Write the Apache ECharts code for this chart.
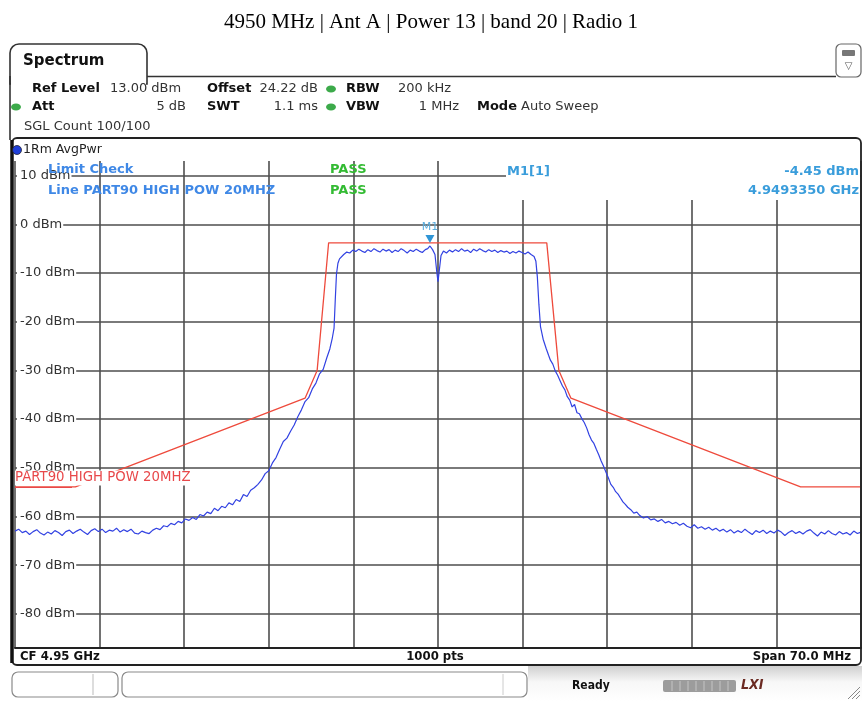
<!DOCTYPE html>
<html>
<head>
<meta charset="utf-8">
<title>Spectrum</title>
<script src="https://cdn.jsdelivr.net/npm/echarts@6/dist/echarts.min.js"></script>
<style>
html, body { margin: 0; padding: 0; background: #fff; }
#main { width: 862px; height: 701px; }
</style>
</head>
<body>
<div id="main"></div>
<script>
var chartTitle = '4950 MHz | Ant A | Power 13 | band 20 | Radio 1';

// x = offset from CF 4.95 GHz in MHz, y = level in dBm
var levelTicks = [10, 0, -10, -20, -30, -40, -50, -60, -70, -80];

var limitLine = [
    [-35, -53.9], [-30, -53.9], [-11, -35.7], [-10, -30], [-9.05, -3.8],
    [9.0, -3.8], [10, -30], [11, -35.7], [30, -53.9], [35, -53.9]
];

var avgTrace = [
    [-35.0, -63.0], [-34.7, -62.6], [-34.4, -63.3], [-34.1, -63.0], [-33.8, -63.7], [-33.5, -63.1],
    [-33.2, -62.7], [-32.9, -63.4], [-32.6, -63.8], [-32.3, -63.2], [-32.0, -63.6], [-31.7, -62.9],
    [-31.4, -63.3], [-31.1, -63.9], [-30.8, -63.1], [-30.5, -62.8], [-30.2, -63.5], [-29.9, -63.0],
    [-29.6, -62.6], [-29.3, -63.2], [-29.0, -63.7], [-28.7, -62.9], [-28.4, -62.5], [-28.1, -63.1],
    [-27.8, -62.6], [-27.5, -63.3], [-27.2, -62.8], [-26.9, -63.0], [-26.6, -62.4], [-26.3, -63.2],
    [-26.0, -62.7], [-25.7, -63.1], [-25.4, -62.6], [-25.1, -63.4], [-24.8, -63.6], [-24.5, -63.0],
    [-24.2, -63.3], [-23.9, -63.5], [-23.6, -62.8], [-23.3, -62.4], [-23.0, -62.7], [-22.7, -61.9],
    [-22.4, -62.1], [-22.1, -61.4], [-21.8, -61.7], [-21.5, -61.0], [-21.2, -61.3], [-20.9, -60.5],
    [-20.6, -60.8], [-20.3, -60.2], [-20.0, -60.6], [-19.7, -59.6], [-19.4, -59.9], [-19.1, -59.1],
    [-18.8, -59.4], [-18.5, -58.3], [-18.2, -58.8], [-17.9, -57.9], [-17.6, -58.2], [-17.3, -57.2],
    [-17.0, -57.6], [-16.7, -56.5], [-16.4, -56.9], [-16.1, -55.5], [-15.8, -55.9], [-15.5, -54.6],
    [-15.2, -54.1], [-14.9, -53.4], [-14.6, -52.5], [-14.3, -51.2], [-14.0, -50.6], [-13.7, -49.0],
    [-13.4, -47.9], [-13.1, -46.2], [-12.8, -44.6], [-12.5, -43.9], [-12.2, -42.5], [-11.9, -41.2],
    [-11.6, -39.5], [-11.3, -38.1], [-11.0, -36.4], [-10.7, -35.6], [-10.4, -33.8], [-10.1, -32.6],
    [-9.8, -30.7], [-9.5, -29.8], [-9.2, -27.4], [-8.95, -25.6], [-8.75, -23.4], [-8.6, -21.3],
    [-8.5, -15.5], [-8.4, -10.2], [-8.28, -8.0], [-8.15, -7.1], [-8.0, -6.7],
    [-7.8, -6.2], [-7.55, -5.7], [-7.3, -5.9], [-7.05, -5.3], [-6.8, -5.6], [-6.55, -5.1],
    [-6.3, -5.5], [-6.05, -5.8], [-5.8, -5.2], [-5.55, -5.6], [-5.3, -5.0], [-5.05, -5.4],
    [-4.8, -5.7], [-4.55, -5.1], [-4.3, -5.5], [-4.05, -5.2], [-3.8, -5.8], [-3.55, -5.3],
    [-3.3, -5.6], [-3.05, -5.0], [-2.8, -5.4], [-2.55, -5.9], [-2.3, -5.3], [-2.05, -5.6],
    [-1.8, -5.1], [-1.55, -5.5], [-1.3, -5.8], [-1.05, -5.2], [-0.85, -5.0], [-0.665, -4.45],
    [-0.45, -5.2], [-0.25, -6.2], [-0.1, -9.8], [0.0, -11.8], [0.1, -9.6], [0.25, -6.4],
    [0.45, -5.5], [0.7, -5.9], [0.95, -5.3], [1.2, -5.7], [1.45, -5.2], [1.7, -5.6],
    [1.95, -5.0], [2.2, -5.5], [2.45, -5.3], [2.7, -5.8], [2.95, -5.1], [3.2, -5.5],
    [3.45, -5.0], [3.7, -5.4], [3.95, -5.7], [4.2, -5.2], [4.45, -5.6], [4.7, -5.3],
    [4.95, -5.8], [5.2, -5.4], [5.45, -5.7], [5.7, -5.5], [5.95, -6.0], [6.2, -5.6],
    [6.45, -5.9], [6.7, -5.5], [6.95, -5.8], [7.2, -6.1], [7.45, -5.7], [7.7, -6.2],
    [7.95, -6.6], [8.1, -7.6], [8.22, -10.8], [8.35, -16.5], [8.48, -21.0], [8.7, -23.6],
    [8.95, -25.5], [9.15, -26.9], [9.3, -27.9], [9.5, -28.7], [9.7, -30.1], [9.9, -31.0],
    [10.1, -32.1], [10.3, -33.2], [10.5, -34.0], [10.7, -35.4], [10.9, -36.1], [11.1, -37.5],
    [11.3, -37.0], [11.5, -38.7], [11.7, -38.9], [11.9, -39.9], [12.1, -40.7], [12.3, -41.8],
    [12.5, -43.2], [12.7, -44.3], [12.9, -45.0], [13.1, -46.2], [13.3, -47.3], [13.5, -48.6],
    [13.7, -49.7], [13.9, -50.9], [14.1, -52.1], [14.3, -53.4], [14.5, -54.0], [14.7, -54.9],
    [14.9, -55.4], [15.1, -56.2], [15.3, -57.0], [15.5, -57.5], [15.7, -58.1], [15.95, -58.6],
    [16.2, -59.3], [16.45, -59.1], [16.7, -59.8], [17.0, -60.3], [17.3, -60.0], [17.6, -60.7],
    [17.9, -60.5], [18.2, -61.0], [18.5, -60.6], [18.8, -61.3], [19.1, -61.0], [19.4, -61.5],
    [19.7, -61.2], [20.0, -61.8], [20.3, -61.4], [20.6, -62.0], [20.9, -62.3], [21.2, -61.7],
    [21.5, -62.4], [21.8, -62.1], [22.1, -62.6], [22.4, -62.2], [22.7, -62.8], [23.0, -62.4],
    [23.3, -63.0], [23.6, -62.6], [23.9, -63.2], [24.2, -62.7], [24.5, -63.4], [24.8, -62.9],
    [25.1, -63.3], [25.4, -62.6], [25.7, -63.2], [26.0, -63.7], [26.3, -62.9], [26.6, -63.3],
    [26.9, -62.8], [27.2, -63.5], [27.5, -63.0], [27.8, -63.4], [28.1, -62.8], [28.4, -63.2],
    [28.7, -63.9], [29.0, -63.3], [29.3, -62.9], [29.6, -63.5], [29.9, -63.1], [30.2, -63.6],
    [30.5, -63.0], [30.8, -62.7], [31.1, -63.4], [31.4, -64.0], [31.7, -63.2], [32.0, -63.6],
    [32.3, -62.9], [32.6, -63.5], [32.9, -63.8], [33.2, -63.1], [33.5, -63.6], [33.8, -63.3],
    [34.1, -63.8], [34.4, -63.0], [34.7, -63.5], [35.0, -63.2]
];

var markerM1 = [-0.665, -4.45];

var UI = '"DejaVu Sans", Verdana, sans-serif';
var NARROW = '"DejaVu Sans Condensed", "Liberation Sans Narrow", sans-serif';

function txt(x, y, s, font, color, align, z) {
    return {
        type: 'text', x: x, y: y, z: z || 60,
        style: {
            text: s, font: font, fill: color || '#222',
            textAlign: align || 'left', textVerticalAlign: 'middle',
            align: align || 'left', verticalAlign: 'middle'
        }
    };
}
function ln(x1, y1, x2, y2, color, w, z) {
    return { type: 'line', z: z || 55, shape: { x1: x1, y1: y1, x2: x2, y2: y2 },
             style: { stroke: color || '#222', lineWidth: w || 1 } };
}
function box(x, y, w, h, r, fill, stroke, lw, z) {
    return { type: 'rect', z: z || 50, shape: { x: x, y: y, width: w, height: h, r: r || 0 },
             style: { fill: fill || 'none', stroke: stroke || 'none', lineWidth: lw || 1 } };
}
function dot(cx, cy, color) {
    return { type: 'ellipse', z: 60, shape: { cx: cx, cy: cy, rx: 5, ry: 3.5 }, style: { fill: color } };
}

var bold = 'bold 13px ' + UI;
var norm = '13px ' + UI;
var blue = '#3f88e6';
var cyan = '#3a9ddb';
var green = '#33bb33';

var frame = [
    txt(431, 22, chartTitle, '21px "Liberation Serif", "Times New Roman", serif', '#000', 'center'),
    // tab + header
    box(10, 44, 137, 40, [9, 9, 0, 0], '#fff', '#333', 1.6, 40),
    box(11, 77, 135, 10, 0, '#fff', 'none', 1, 41),
    ln(147, 76.5, 836, 76.5, '#333', 1.6, 42),
    ln(10, 76, 10, 140, '#333', 1.6, 42),
    box(836, 44, 25, 33, 5, '#fff', '#666', 1.2, 42),
    box(842, 50, 13, 6, 1, '#777', 'none', 1, 43),
    txt(848.5, 66, '\u25BD', '10px ' + UI, '#555', 'center'),
    txt(23, 61, 'Spectrum', 'bold 15px ' + UI, '#111'),

    txt(32, 89, 'Ref Level', bold, '#111'),
    txt(110, 89, '13.00 dBm', norm, '#333'),
    txt(207, 89, 'Offset', bold, '#111'),
    txt(318, 89, '24.22 dB', norm, '#333', 'right'),
    dot(331, 89, '#3caa4a'),
    txt(346, 89, 'RBW', bold, '#111'),
    txt(398, 89, '200 kHz', norm, '#333'),

    dot(16, 107, '#3caa4a'),
    txt(32, 107, 'Att', bold, '#111'),
    txt(186, 107, '5 dB', norm, '#333', 'right'),
    txt(207, 107, 'SWT', bold, '#111'),
    txt(318, 107, '1.1 ms', norm, '#333', 'right'),
    dot(331, 107, '#3caa4a'),
    txt(346, 107, 'VBW', bold, '#111'),
    txt(459, 107, '1 MHz', norm, '#333', 'right'),
    txt(477, 107, 'Mode', bold, '#111'),
    txt(521, 107, 'Auto Sweep', norm, '#333'),

    txt(24, 127, 'SGL Count 100/100', norm, '#333'),

    // diagram panel
    box(12, 138, 849, 527, 5, 'none', '#222', 1.8, 45),
    ln(12, 140, 12, 663, '#111', 3.5, 46),
    { type: 'circle', z: 60, shape: { cx: 17, cy: 150, r: 4.5 }, style: { fill: '#1f3fd8', stroke: '#223', lineWidth: 0.8 } },
    txt(23, 150, '1Rm AvgPwr', '12.5px ' + UI, '#222'),

    // marker info + limit check
    box(506, 159, 354, 41, 0, '#fff', 'none', 1, 50),
    txt(48, 170, 'Limit Check', bold, blue),
    txt(330, 170, 'PASS', bold, green),
    txt(48, 191, 'Line PART90 HIGH POW 20MHZ', bold, blue),
    txt(330, 191, 'PASS', bold, green),
    txt(507, 172, 'M1[1]', bold, cyan),
    txt(859, 172, '-4.45 dBm', bold, cyan, 'right'),
    txt(859, 191, '4.9493350 GHz', bold, cyan, 'right'),

    // limit line label
    { type: 'text', x: 15, y: 478, z: 60,
      style: { text: 'PART90 HIGH POW 20MHZ', font: '13.3px ' + UI, fill: '#e8484a', backgroundColor: '#fff',
               textVerticalAlign: 'middle', verticalAlign: 'middle', padding: [1, 1, 1, 0] } },
    ln(15, 487.5, 72, 487.5, '#e8484a', 1, 61),

    // footer
    box(13, 649, 847, 15, 0, '#fff', 'none', 1, 44),
    txt(20, 657, 'CF 4.95 GHz', 'bold 13px ' + NARROW, '#111'),
    txt(435, 657, '1000 pts', 'bold 13px ' + NARROW, '#111', 'center'),
    txt(851, 657, 'Span 70.0 MHz', 'bold 13px ' + NARROW, '#111', 'right'),

    // status bar
    { type: 'rect', z: 30, shape: { x: 528, y: 666, width: 334, height: 35 },
      style: { fill: new echarts.graphic.LinearGradient(0, 0, 0, 1, [
          { offset: 0, color: '#cfcfcf' }, { offset: 0.45, color: '#f7f7f7' }, { offset: 1, color: '#ffffff' }]) } },
    box(12, 672, 106, 25, 6, '#fff', '#8a8a8a', 1.2, 40),
    ln(93, 674, 93, 695, '#bbb', 1, 41),
    box(122, 672, 405, 25, 6, '#fff', '#8a8a8a', 1.2, 40),
    ln(503, 674, 503, 695, '#ccc', 1, 41),
    txt(572, 686, 'Ready', 'bold 12px ' + NARROW, '#111'),
    box(663, 680, 73, 12, 2, '#9c9c9c', 'none', 1, 40),
    txt(741, 685, 'LXI', 'italic bold 14px ' + NARROW, '#6b2a22'),
    ln(848, 699, 860, 687, '#888', 1, 41),
    ln(852, 699, 860, 691, '#888', 1, 41),
    ln(856, 699, 860, 695, '#888', 1, 41)
];

// separators inside the grey status meter
[672, 680, 688, 696, 704, 712, 720, 728].forEach(function (sx) {
    frame.push(ln(sx, 681, sx, 691, '#c4c4c4', 1, 41));
});

var myChart = echarts.init(document.getElementById('main'));

var option = {
    animation: false,
    backgroundColor: '#fff',
    grid: { left: 15, right: 1, top: 161, bottom: 53 },
    xAxis: {
        type: 'value',
        min: -35,
        max: 35,
        interval: 7,
        axisLabel: { show: false },
        axisTick: { show: false },
        axisLine: { show: true, onZero: false, lineStyle: { color: '#222', width: 2 } },
        splitLine: { show: true, lineStyle: { color: '#4e4e4e', width: 1.6 } }
    },
    yAxis: {
        type: 'value',
        min: -87,
        max: 13,
        axisLine: { show: false },
        axisTick: { show: false, customValues: levelTicks },
        axisLabel: {
            inside: true,
            margin: 2,
            customValues: levelTicks,
            color: '#333',
            fontFamily: 'DejaVu Sans',
            fontSize: 13,
            backgroundColor: '#fff',
            padding: [1, 1, 1, 3],
            formatter: function (v) { return v + ' dBm'; }
        },
        splitLine: { show: true, lineStyle: { color: '#4e4e4e', width: 1.6 } }
    },
    series: [
        {
            name: 'PART90 HIGH POW 20MHZ',
            type: 'line',
            data: limitLine,
            symbol: 'none',
            z: 3,
            lineStyle: { color: '#ee4a3c', width: 1.3 }
        },
        {
            name: '1Rm AvgPwr',
            type: 'line',
            data: avgTrace,
            symbol: 'none',
            z: 4,
            lineStyle: { color: '#3242e2', width: 1.2 },
            markPoint: {
                symbol: 'triangle',
                symbolRotate: 180,
                symbolSize: [9, 8],
                symbolOffset: [0, -7],
                itemStyle: { color: '#2f95d6' },
                label: { show: true, position: 'top', distance: 2, formatter: 'M1',
                         color: '#5aaedf', fontSize: 11, fontFamily: 'DejaVu Sans' },
                data: [{ coord: markerM1 }]
            }
        }
    ],
    graphic: { elements: frame }
};

myChart.setOption(option);
</script>
</body>
</html>
